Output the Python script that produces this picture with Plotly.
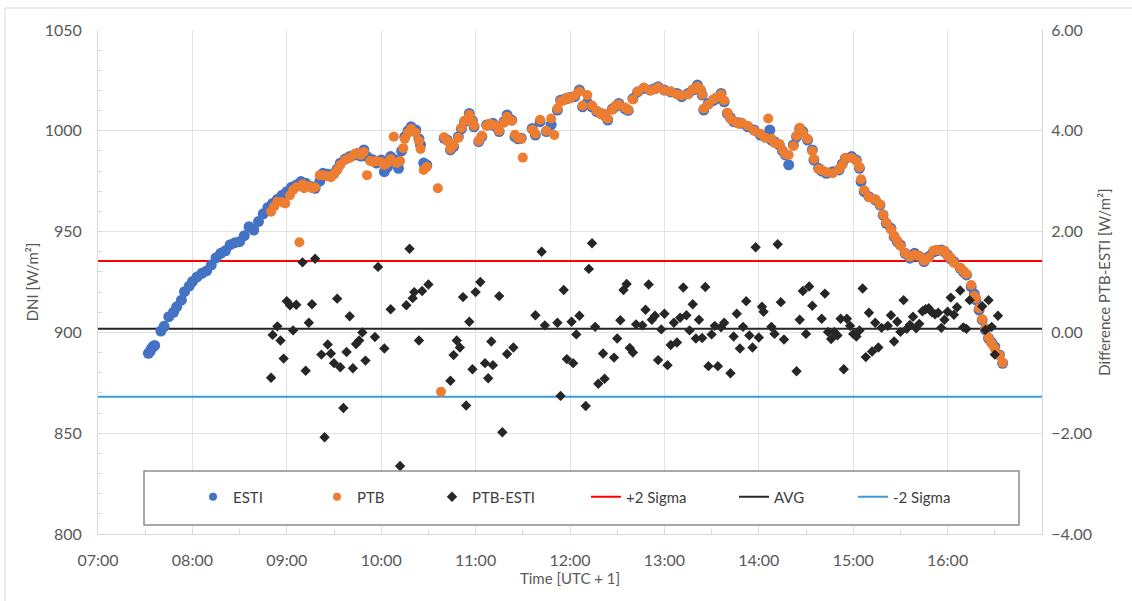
import plotly.graph_objects as go

DAY = "2024-06-21 "

# ---------------- data ----------------
esti_time = ["07:32","07:33","07:34","07:35","07:36","07:40","07:42","07:45","07:48","07:50","07:53","07:55","07:58",
 "08:00","08:03","08:06","08:09","08:12","08:15","08:18","08:21","08:24","08:27","08:30","08:33","08:36","08:39","08:42",
 "08:45","08:48","08:51","08:54","08:57","09:00","09:03","09:06","09:09","09:12","09:15","09:18","09:21","09:23","09:26",
 "09:30","09:32","09:34","09:37","09:40","09:43","09:45","09:47","09:49","09:51","09:53","09:55","09:57","10:00","10:02",
 "10:04","10:06","10:08","10:10","10:11","10:13","10:15","10:17","10:19","10:22","10:24","10:25","10:27","10:29","10:40",
 "10:42","10:44","10:46","10:49","10:51","10:53","10:56","10:58","10:59","11:02","11:04","11:07","11:09","11:11","11:13",
 "11:15","11:18","11:20","11:23","11:25","11:27","11:29","11:36","11:38","11:41","11:45","11:48","11:52","11:54","11:56",
 "11:58","12:00","12:03","12:06","12:08","12:11","12:14","12:17","12:20","12:22","12:24","12:27","12:29","12:31","12:35",
 "12:37","12:40","12:43","12:47","12:51","12:54","12:56","13:00","13:04","13:08","13:11","13:15","13:18","13:21","13:23",
 "13:24","13:25","13:28","13:31","13:33","13:36","13:38","13:40","13:42","13:44","13:47","13:49","13:53","13:57","14:01",
 "14:04","14:07","14:08","14:10","14:13","14:15","14:17","14:19","14:22","14:24","14:26","14:28","14:31","14:34","14:35",
 "14:38","14:40","14:43","14:47","14:51","14:53","14:55","14:59","15:02","15:04","15:05","15:07","15:10","15:14","15:17",
 "15:19","15:21","15:24","15:26","15:28","15:30","15:33","15:36","15:39","15:42","15:45","15:48","15:51","15:53","15:56",
 "15:58","16:00","16:02","16:04","16:08","16:10","16:12","16:15","16:17","16:18","16:20","16:22","16:24","16:26","16:28",
 "16:30","16:33","16:35"]
esti_dni = [889.6,890.5,892.0,893.0,893.5,900.7,903.0,907.8,910.0,912.7,916.0,920.2,923.0,
 925.2,927.5,929.3,930.5,933.4,937.0,939.2,940.5,943.5,944.5,945.0,948.0,952.4,950.8,955.0,
 958.8,962.0,964.0,966.0,968.0,969.8,972.0,973.1,974.8,974.0,972.5,971.5,975.0,978.9,978.5,
 978.9,981.0,983.9,986.0,987.2,988.0,988.8,987.5,990.5,987.2,986.0,985.5,984.0,985.5,979.7,
 982.0,987.2,985.5,985.5,981.4,990.0,997.1,1000.0,1002.0,1000.4,996.0,993.0,984.0,983.0,996.3,
 995.4,990.5,992.1,997.1,1001.0,1004.5,1008.6,1005.0,1002.0,994.6,997.1,1002.9,1003.0,1003.7,1002.0,
 999.6,1004.5,1007.8,1005.3,997.1,996.0,996.3,1001.2,997.9,1004.5,999.6,1003.0,1010.3,1015.2,1015.5,
 1016.0,1016.5,1016.9,1020.2,1011.9,1014.0,1011.9,1009.5,1008.5,1007.8,1005.3,1010.9,1012.0,1013.6,1010.9,
 1010.1,1016.0,1019.3,1021.0,1020.2,1021.0,1021.8,1020.2,1019.3,1018.5,1016.9,1018.5,1020.2,1022.7,1020.0,
 1017.7,1010.3,1013.6,1015.0,1016.0,1018.5,1014.4,1008.6,1006.5,1004.5,1004.0,1003.7,1002.0,1000.4,997.9,
 997.0,1000.4,995.4,994.6,993.0,990.0,988.0,983.1,993.0,997.0,1001.2,999.6,995.4,990.5,985.5,
 981.4,980.0,978.9,979.7,980.6,983.5,986.3,987.2,985.5,981.4,974.8,969.8,967.3,965.7,963.2,
 958.2,954.1,951.6,947.5,945.0,943.4,939.2,936.8,939.2,937.6,935.1,937.6,940.0,940.5,940.9,
 940.0,938.4,936.5,935.1,931.8,930.0,928.5,922.7,919.0,916.1,911.1,906.2,901.2,897.1,895.0,
 892.9,888.8,884.7]

ptb_time = ["08:50","08:52","08:54","08:57","08:59","09:02","09:04","09:06","09:08","09:10","09:11","09:14","09:16",
 "09:18","09:21","09:23","09:26","09:28","09:30","09:32","09:34","09:37","09:40","09:43","09:45","09:47","09:49","09:51",
 "09:53","09:55","09:57","10:00","10:02","10:04","10:06","10:08","10:10","10:12","10:14","10:15","10:17","10:19","10:22",
 "10:24","10:25","10:27","10:29","10:36","10:38","10:40","10:42","10:44","10:46","10:49","10:51","10:53","10:56","10:58",
 "10:59","11:02","11:04","11:07","11:09","11:11","11:13","11:15","11:18","11:20","11:23","11:25","11:27","11:29","11:30",
 "11:36","11:38","11:41","11:45","11:48","11:50","11:52","11:54","11:56","11:58","12:00","12:03","12:06","12:08","12:11",
 "12:14","12:17","12:20","12:22","12:24","12:27","12:29","12:31","12:35","12:37","12:40","12:43","12:47","12:51","12:54",
 "12:56","13:00","13:04","13:08","13:11","13:15","13:18","13:21","13:23","13:24","13:25","13:28","13:31","13:33","13:36",
 "13:38","13:40","13:42","13:44","13:47","13:49","13:53","13:57","14:01","14:04","14:06","14:08","14:10","14:13","14:15",
 "14:17","14:19","14:22","14:24","14:26","14:28","14:31","14:34","14:35","14:38","14:40","14:43","14:47","14:51","14:53",
 "14:55","14:59","15:02","15:04","15:05","15:07","15:10","15:14","15:17","15:19","15:21","15:24","15:26","15:28","15:30",
 "15:33","15:36","15:39","15:42","15:45","15:48","15:51","15:53","15:56","15:58","16:00","16:02","16:04","16:08","16:10",
 "16:12","16:15","16:17","16:18","16:20","16:22","16:24","16:26","16:28","16:30","16:33","16:35"]
ptb_dni = [959.9,962.5,964.8,964.5,964.0,968.0,970.6,972.0,944.7,973.5,971.5,972.5,971.5,
 972.0,978.0,978.0,977.5,977.0,978.5,980.5,983.0,985.5,986.5,988.5,989.0,988.0,989.5,978.0,
 985.0,984.5,985.0,984.5,983.0,984.0,986.0,997.1,984.0,985.0,991.4,996.0,999.0,1001.0,999.0,
 995.0,991.0,980.6,982.2,971.5,870.6,996.8,995.0,991.0,993.0,996.5,1001.5,1005.0,1008.0,1004.5,
 1002.5,995.0,997.5,1002.5,1003.5,1003.0,1002.5,1000.0,1004.0,1007.0,1005.0,998.0,996.5,996.0,986.7,
 1000.5,998.5,1005.5,1000.0,1006.1,997.9,1011.0,1014.5,1015.0,1016.5,1016.0,1017.5,1019.5,1012.5,1017.7,
 1012.5,1010.0,1008.0,1008.5,1006.0,1010.5,1012.5,1013.0,1011.5,1010.5,1015.5,1019.5,1021.5,1020.0,1020.5,
 1021.5,1020.0,1019.5,1018.0,1017.5,1018.0,1020.5,1022.0,1020.5,1018.0,1011.0,1013.0,1015.5,1016.5,1018.0,
 1015.0,1009.0,1006.0,1005.0,1003.5,1004.0,1002.5,1000.0,998.5,996.5,1006.1,996.0,994.0,993.5,990.5,
 988.5,988.0,992.5,997.5,1001.5,999.0,996.0,990.0,986.0,981.0,980.5,979.5,979.0,981.0,983.0,
 986.5,986.5,985.0,982.0,976.0,970.5,967.0,966.0,963.5,958.5,954.5,951.0,948.0,945.5,943.0,
 939.5,937.5,938.5,938.0,935.5,937.0,940.5,941.0,940.5,940.5,938.0,937.0,934.5,932.0,930.5,
 929.0,923.5,918.0,917.0,912.0,906.5,902.0,897.5,894.5,892.0,888.5,885.0]

diff_time = ["08:50","08:51","08:54","08:56","08:58","09:00","09:02","09:04","09:06","09:10","09:12","09:14","09:16",
 "09:18","09:22","09:24","09:26","09:28","09:30","09:32","09:34","09:36","09:38","09:40","09:42","09:44","09:46","09:48",
 "09:50","09:56","09:58","10:02","10:06","10:12","10:16","10:18","10:20","10:21","10:24","10:26","10:30","10:44","10:46",
 "10:48","10:50","10:52","10:54","10:56","10:58","11:00","11:03","11:06","11:08","11:10","11:11","11:15","11:17","11:20",
 "11:24","11:38","11:42","11:44","11:52","11:54","11:56","11:58","12:01","12:02","12:04","12:06","12:10","12:12","12:14",
 "12:16","12:18","12:21","12:22","12:28","12:30","12:32","12:34","12:36","12:38","12:40","12:42","12:46","12:48","12:50",
 "12:52","12:54","12:56","12:58","13:00","13:02","13:04","13:06","13:08","13:10","13:12","13:14","13:16","13:18","13:20",
 "13:22","13:24","13:26","13:28","13:30","13:32","13:34","13:36","13:38","13:42","13:44","13:46","13:48","13:50","13:52",
 "13:54","13:56","13:58","14:00","14:02","14:03","14:08","14:10","14:12","14:14","14:16","14:24","14:26","14:28","14:30",
 "14:32","14:34","14:40","14:42","14:44","14:46","14:48","14:50","14:52","14:54","14:56","14:58","15:00","15:02","15:04",
 "15:06","15:08","15:10","15:12","15:14","15:16","15:18","15:22","15:24","15:26","15:28","15:30","15:32","15:34","15:36",
 "15:38","15:40","15:42","15:44","15:46","15:48","15:50","15:52","15:54","15:56","15:58","16:00","16:02","16:04","16:06",
 "16:08","16:10","16:12","16:14","16:22","16:24","16:26","16:28","16:30","16:32"]
diff_val = [-0.90,-0.05,0.12,-0.16,-0.52,0.62,0.54,0.04,0.55,1.39,-0.76,0.19,0.56,
 1.46,-0.44,-2.08,-0.24,-0.42,-0.61,0.67,-0.69,-1.50,-0.39,0.32,-0.71,-0.23,-0.16,0.00,
 -0.56,-0.09,1.30,-0.32,0.46,-2.65,0.54,1.66,0.68,0.80,-0.16,0.82,0.95,-0.96,-0.45,
 -0.16,-0.30,0.70,-1.45,0.21,-0.73,0.80,1.00,-0.61,-0.91,-0.18,-0.65,0.72,-1.98,-0.43,
 -0.30,0.34,1.60,0.14,0.19,-1.26,0.84,-0.53,0.21,-0.61,-0.04,0.33,-1.46,1.26,1.77,
 0.11,-1.02,-0.42,-0.92,-0.50,-0.12,0.24,0.84,0.96,-0.31,-0.40,0.16,0.14,0.45,0.95,
 0.25,0.33,-0.55,0.06,0.37,-0.65,-0.25,0.19,-0.20,0.29,0.89,0.34,0.04,0.56,-0.12,
 0.25,-0.11,0.90,-0.67,-0.04,0.13,-0.67,0.10,0.19,-0.81,-0.08,0.37,-0.32,0.11,0.62,
 -0.06,-0.30,1.69,-0.10,0.51,0.41,0.11,-0.03,1.75,0.60,-0.14,-0.77,0.25,0.82,-0.03,
 0.91,0.53,0.27,0.77,0.01,-0.13,0.01,-0.06,0.27,-0.73,0.27,0.13,-0.03,-0.08,0.04,
 0.87,-0.49,0.39,-0.38,0.19,-0.30,0.09,0.13,0.34,-0.18,0.21,0.01,0.64,0.07,0.15,
 0.31,0.08,0.17,0.42,0.46,0.48,0.40,0.36,0.39,0.09,0.25,0.41,0.69,0.35,0.50,
 0.83,0.10,0.07,0.64,0.52,0.05,0.64,0.11,-0.44,0.33]

line_time = ["07:00", "17:00"]
plus_2_sigma = [1.415, 1.415]
avg_diff = [0.07, 0.07]
minus_2_sigma = [-1.275, -1.275]

x_tick_labels = ["07:00","08:00","09:00","10:00","11:00","12:00","13:00","14:00","15:00","16:00"]
dni_ticks = [800, 850, 900, 950, 1000, 1050]
diff_ticks = [-4, -2, 0, 2, 4, 6]

# ---------------- styling ----------------
FONT = "Lato"
TXT = "#595959"
GRID = "#E3E3E3"
AXL = "#D9D9D9"
C_ESTI, C_PTB, C_DIFF = "#4472C4", "#ED7D31", "#262626"

def t(lst):
    return [DAY + s for s in lst]

# plot-area pixel geometry (for legend placement)
PL, PR, PT, PB = 98, 1042, 30, 534
PW, PH = PR - PL, PB - PT
def px(xp):
    return (xp - PL) / PW
def py(yp):
    return (PB - yp) / PH

fig = go.Figure()

# reference lines (difference axis, drawn underneath)
fig.add_trace(go.Scatter(x=t(line_time), y=plus_2_sigma, mode="lines", name="+2 Sigma",
                         line=dict(color="#FF0000", width=2), yaxis="y", legend="legend4", hoverinfo="skip"))
fig.add_trace(go.Scatter(x=t(line_time), y=avg_diff, mode="lines", name="AVG",
                         line=dict(color="#262626", width=2), yaxis="y", legend="legend5", hoverinfo="skip"))
fig.add_trace(go.Scatter(x=t(line_time), y=minus_2_sigma, mode="lines", name="-2 Sigma",
                         line=dict(color="#3D9BDC", width=2), yaxis="y", legend="legend6", hoverinfo="skip"))

# DNI series (left axis, overlay)
fig.add_trace(go.Scatter(x=t(esti_time), y=esti_dni, mode="markers", name="ESTI", yaxis="y2", showlegend=False,
                         marker=dict(color=C_ESTI, size=11, line=dict(width=0))))
fig.add_trace(go.Scatter(x=t(ptb_time), y=ptb_dni, mode="markers", name="PTB", yaxis="y2", showlegend=False,
                         marker=dict(color=C_PTB, size=10, line=dict(width=0))))

# differences (on top)
fig.add_trace(go.Scatter(x=t(diff_time), y=diff_val, mode="markers", name="PTB-ESTI", yaxis="y3", showlegend=False,
                         marker=dict(color=C_DIFF, size=8, symbol="diamond", line=dict(width=0))))

# legend entries (no data, smaller symbols as in the reference legend)
fig.add_trace(go.Scatter(x=[None], y=[None], mode="markers", name="ESTI", yaxis="y2", legend="legend",
                         marker=dict(color=C_ESTI, size=8)))
fig.add_trace(go.Scatter(x=[None], y=[None], mode="markers", name="PTB", yaxis="y2", legend="legend2",
                         marker=dict(color=C_PTB, size=8)))
fig.add_trace(go.Scatter(x=[None], y=[None], mode="markers", name="PTB-ESTI", yaxis="y3", legend="legend3",
                         marker=dict(color=C_DIFF, size=8, symbol="diamond")))

leg_font = dict(family=FONT, size=15, color="#404040")
leg_y = py(497)
leg_x = {"legend": 193, "legend2": 317, "legend3": 432, "legend4": 586, "legend5": 734, "legend6": 853}
legends = {}
for k, xp in leg_x.items():
    legends[k] = dict(x=px(xp), xanchor="left", y=leg_y, yanchor="middle", bgcolor="rgba(0,0,0,0)",
                      borderwidth=0, font=leg_font, orientation="h", itemsizing="trace")

fig.update_layout(
    width=1132, height=601,
    margin=dict(l=PL, r=1132 - PR, t=PT, b=601 - PB, autoexpand=False),
    paper_bgcolor="white", plot_bgcolor="white",
    font=dict(family=FONT, color=TXT),
    showlegend=True,
    xaxis=dict(type="date", range=[DAY + "07:00", DAY + "17:00"],
               tickvals=t(x_tick_labels), ticktext=x_tick_labels,
               showgrid=True, gridcolor=GRID, gridwidth=1,
               showline=True, linecolor=AXL, linewidth=1,
               ticks="inside", ticklen=5, tickcolor=AXL, ticklabelstandoff=12,
               minor=dict(dtick=30 * 60 * 1000, ticks="inside", ticklen=5, tickcolor=AXL, showgrid=False),
               tickfont=dict(family=FONT, size=16, color=TXT),
               title=dict(text="Time [UTC + 1]", font=dict(family=FONT, size=15, color=TXT), standoff=5),
               zeroline=False),
    yaxis=dict(range=[-4, 6], side="right", tickvals=diff_ticks, tickformat=".2f",
               showgrid=False, zeroline=False, showline=True, linecolor=AXL, linewidth=1,
               tickfont=dict(family=FONT, size=16, color=TXT), ticks="", ticklabelstandoff=5,
               title=dict(text="Difference PTB-ESTI [W/m²]", font=dict(family=FONT, size=15, color=TXT), standoff=8)),
    yaxis2=dict(range=[800, 1050], side="left", overlaying="y", tickvals=dni_ticks,
                showgrid=True, gridcolor=GRID, gridwidth=1, zeroline=False,
                showline=True, linecolor=AXL, linewidth=1,
                ticks="inside", ticklen=4, tickcolor=AXL, ticklabelstandoff=12,
                minor=dict(dtick=10, ticks="inside", ticklen=4, tickcolor=AXL, showgrid=False),
                tickfont=dict(family=FONT, size=16, color=TXT),
                title=dict(text="DNI [W/m²]", font=dict(family=FONT, size=15, color=TXT), standoff=2)),
    yaxis3=dict(range=[-4, 6], overlaying="y", visible=False),
    shapes=[
        # legend frame
        dict(type="rect", xref="paper", yref="paper", x0=px(144), x1=px(1019), y0=py(525), y1=py(471),
             line=dict(color="#8C8C8C", width=1.5), fillcolor="white", layer="above"),
        # chart-area border
        dict(type="rect", xref="paper", yref="paper", x0=px(5), x1=px(1140), y0=py(610), y1=py(8),
             line=dict(color="#D9D9D9", width=1), fillcolor="rgba(0,0,0,0)", layer="above"),
    ],
    **legends,
)

fig.write_html("out.html", config={"displayModeBar": False},
               post_script="document.body.style.margin='0';")
